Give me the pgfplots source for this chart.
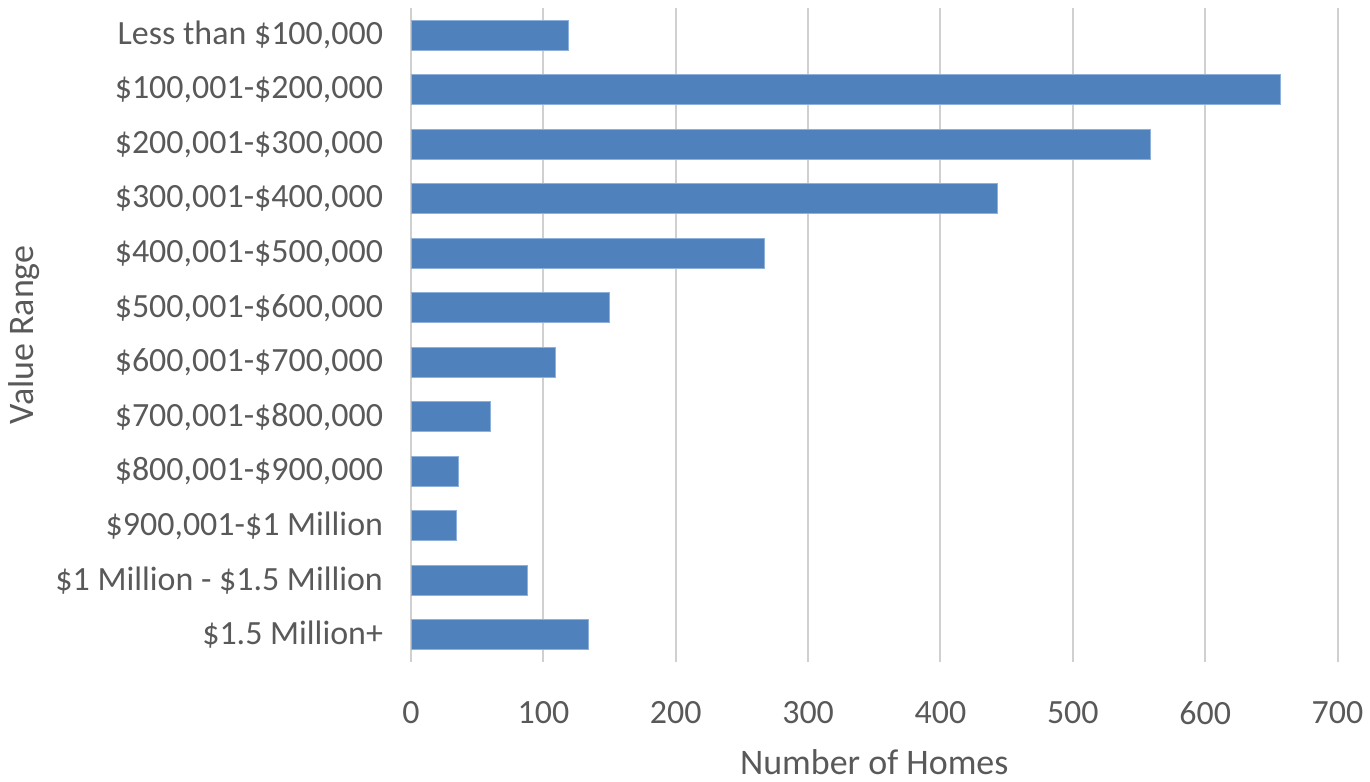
\documentclass[border=0pt]{standalone}
\usepackage{fontspec}
\setmainfont{Carlito}
\usepackage{pgfplots}
\pgfplotsset{compat=1.18}
\definecolor{barblue}{HTML}{4F81BD}
\definecolor{bardraw}{HTML}{8EB1DC}
\definecolor{txt}{HTML}{595959}
\definecolor{gridc}{HTML}{D0D0D0}
\begin{document}
\begin{tikzpicture}
\begin{axis}[
  name=main,
  scale only axis, width=464pt, height=327.5pt,
  xmin=0, xmax=700, ymin=-0.5, ymax=11.5, y dir=reverse,
  xbar, bar width=15pt,
  xtick={0,100,...,700},
  ytick={0,...,11},
  yticklabels={{Less than \$100,000},{\$100,001-\$200,000},{\$200,001-\$300,000},{\$300,001-\$400,000},{\$400,001-\$500,000},{\$500,001-\$600,000},{\$600,001-\$700,000},{\$700,001-\$800,000},{\$800,001-\$900,000},{\$900,001-\$1 Million},{\$1 Million - \$1.5 Million},{\$1.5 Million+}},
  xmajorgrids, major grid style={gridc, line width=1pt},
  axis line style={draw=none},
  major tick length=0pt,
  tick label style={font=\fontsize{17}{20}\selectfont, text=txt},
  /pgf/number format/assume math mode=true,
  xticklabel style={yshift=-16.5pt},
  yticklabel style={xshift=-10.5pt},
  xlabel={Number of Homes}, ylabel={Value Range},
  label style={font=\fontsize{18}{21}\selectfont, text=txt},
  xlabel style={yshift=-5.5pt},
  ylabel style={yshift=1pt},
]
\addplot[fill=barblue, draw=bardraw, line width=0.5pt] coordinates {
(119,0) (657,1) (559,2) (443,3) (267,4) (150,5) (109,6) (60,7) (36,8) (34,9) (88,10) (134,11)};
\end{axis}
\path ([xshift=15pt,yshift=4pt]main.north east) ([xshift=-1pt]main.outer west);
\end{tikzpicture}
\end{document}
